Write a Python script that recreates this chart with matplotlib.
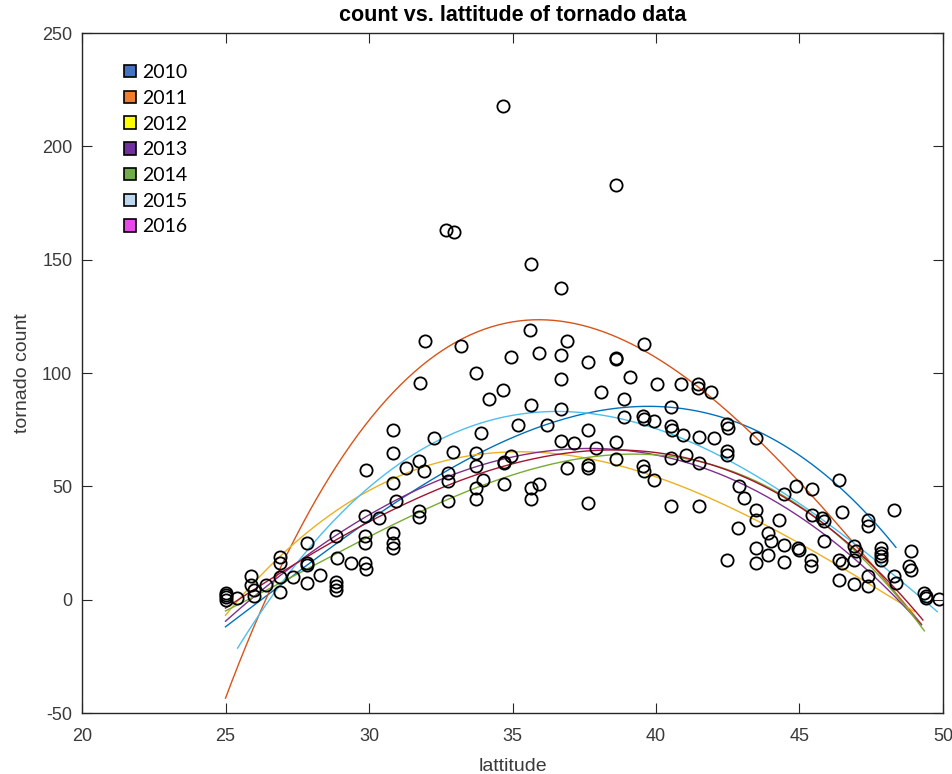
import numpy as np
import matplotlib
matplotlib.use("Agg")
import matplotlib.pyplot as plt
from matplotlib.patches import Patch

plt.rcParams["axes.unicode_minus"] = False

# ---------------- data ----------------
years = ["2010", "2011", "2012", "2013", "2014", "2015", "2016"]
line_colors = ["#0072BD", "#D95319", "#EDB120", "#7E2F8E", "#77AC30", "#4DBEEE", "#A2142F"]
legend_colors = ["#4472C4", "#ED7D31", "#FFFF00", "#7030A0", "#70AD47", "#BDD7EE", "#E848E8"]

lat = [25.0, 25.0, 25.0, 25.0, 25.4,
       25.9, 25.9, 26.0, 26.0, 26.4,
       26.9, 26.9, 26.9, 26.9, 27.35,
       27.85, 27.85, 27.85, 27.85, 28.3,
       28.85, 28.9, 28.85, 28.85, 28.85, 29.37,
       29.85, 29.85, 29.85, 29.85, 29.9, 29.9, 30.36,
       30.83, 30.83, 30.83, 30.94, 30.83, 30.83, 30.83, 31.3,
       31.75, 31.79, 31.9, 31.75, 31.75, 31.95, 32.28,
       32.7, 32.96, 32.74, 32.74, 32.74, 32.91, 33.2,
       33.73, 33.73, 33.73, 33.73, 33.73, 33.9, 33.96,
       34.19, 34.66, 34.68, 34.69, 34.69, 34.69, 34.95, 34.95,
       35.18, 35.64, 35.6, 35.64, 35.64, 35.64, 35.93, 35.93,
       36.2, 36.69, 36.69, 36.7, 36.69, 36.69, 36.9, 36.9,
       37.15, 37.62, 37.62, 37.62, 37.62, 37.62, 37.9,
       38.1, 38.6, 38.6, 38.6, 38.6, 38.6, 38.87, 38.87,
       39.1, 39.53, 39.59, 39.59, 39.53, 39.57, 39.92, 39.94,
       40.05, 40.52, 40.52, 40.55, 40.52, 40.52, 40.87, 40.93,
       41.05, 41.45, 41.47, 41.51, 41.51, 41.51, 41.92, 42.01,
       42.47, 42.5, 42.47, 42.47, 42.47, 42.85, 42.9, 43.05,
       43.49, 43.49, 43.49, 43.49, 43.49,
       43.9, 44.0, 43.9, 44.3,
       44.47, 44.47, 44.47, 44.88, 44.94, 45.0,
       45.43, 45.43, 45.4, 45.4, 45.8, 45.86, 45.86,
       46.39, 46.48, 46.39, 46.48, 46.39,
       46.9, 46.96, 46.9, 46.9,
       47.38, 47.4, 47.37, 47.38,
       47.84, 47.84, 47.84, 47.84,
       48.3, 48.3, 48.35,
       48.88, 48.83, 48.88,
       49.35, 49.4, 49.4, 49.87]

count = [0, 1, 2, 3, 0.8,
         10.5, 6.6, 4.4, 1.5, 6.6,
         19, 16, 10, 3.5, 10,
         25, 16.2, 15.5, 7.5, 11,
         28, 18.5, 8, 6, 4.4, 16,
         36.8, 28, 25, 16, 13.5, 57, 36,
         74.8, 64.8, 51.5, 43.4, 29.4, 25, 23, 58,
         61, 95.7, 56.6, 39, 36.5, 114, 71.4,
         163, 162, 55.9, 52.2, 43.7, 65, 112,
         100, 64.5, 58.9, 49.3, 44.5, 73.6, 53,
         88.6, 92.3, 217.7, 60.4, 60.9, 51.1, 107, 63.3,
         77.1, 148, 119, 86, 49.3, 44.5, 109, 51.1,
         77.1, 108, 97.4, 137.7, 83.9, 69.9, 114, 58.1,
         69.2, 105, 75, 58.1, 59.5, 42.7, 67,
         91.5, 183, 106.7, 106, 69.5, 62.1, 88.6, 80.7,
         98.3, 81, 79.5, 112.6, 58.9, 56.6, 52.7, 79,
         95, 85, 76.5, 75, 62.6, 41.5, 95, 72.8,
         64, 95, 93.5, 71.8, 60.4, 41.5, 91.5, 71.4,
         77.3, 75.8, 65.5, 64, 17.7, 31.7, 50.3, 44.9,
         71.4, 39.7, 35.3, 22.8, 16.2,
         29.4, 26, 19.5, 35.3,
         46.8, 24.3, 16.5, 50, 22.8, 22,
         48.9, 37.5, 17.7, 14.7, 36, 34.6, 25.7,
         52.7, 38.5, 17.7, 16.2, 8.5,
         23.5, 21.3, 17.7, 7,
         35.3, 32.7, 10.3, 5.9,
         22.8, 20.6, 19.1, 17.5,
         39.7, 10.3, 7.4,
         21.3, 14.7, 13.2,
         3, 0.8, 1.5, 0.3]

# Fitted trend curves per year (lattitude, count)
fit_2010_x = [25.0, 30.6, 32.86, 34.6, 36.34, 37.55, 39.7, 42.0, 43.66, 46.33, 48.36]
fit_2010_y = [-13, 45, 57, 66, 76.5, 81.7, 86, 83.9, 72.8, 51.5, 22]
fit_2011_x = [25.0, 27.17, 28.33, 29.14, 30.42, 31.93, 33.9, 35.8, 39.1, 41.46, 42.96, 44.35, 45.98, 47.15, 48.3, 49.25]
fit_2011_y = [-43.4, 23.5, 45.6, 64.8, 83.9, 103, 119.2, 122.6, 116.3, 98.6, 75, 58.9, 36.8, 17.7, 4.4, -8]
fit_2012_x = [25.0, 26.35, 28.0, 29.37, 31.0, 32.16, 33.9, 35.64, 38.43, 40.87, 42.6, 45.3, 47.38, 49.0]
fit_2012_y = [-8, 13.2, 32.4, 44.2, 52.5, 58.9, 64.5, 65.5, 60.4, 50, 40.5, 22, 8.8, -6]
fit_2013_x = [25.0, 30.6, 32.86, 34.6, 36.34, 38.5, 40.87, 43.2, 44.35, 47.38, 49.25]
fit_2013_y = [-10, 44, 53.7, 61.8, 64.5, 65.5, 61.1, 51.5, 43.4, 10.3, -10.3]
fit_2014_x = [25.0, 27.98, 30.6, 33.4, 35.76, 37.5, 39.1, 40.87, 44.35, 46.7, 49.35]
fit_2014_y = [-5.9, 14.7, 35.3, 45.6, 56, 62.6, 64, 62.6, 47.8, 25, -14.7]
fit_2015_x = [25.42, 26.25, 27.98, 29.37, 30.6, 33.4, 35.2, 37.4, 39.7, 40.87, 42.0, 44.35, 47.38, 49.8]
fit_2015_y = [-20.6, -7.4, 23.5, 42.7, 60.4, 73.6, 79.5, 82.5, 76.5, 70, 67.7, 48.6, 19.1, -5.2]
fit_2016_x = [25.0, 30.6, 32.86, 34.6, 36.34, 37.97, 40.87, 43.2, 44.35, 46.7, 49.3]
fit_2016_y = [-4, 39.7, 50, 58.9, 63.3, 64.8, 63, 54.4, 47.1, 23.5, -8.8]

fits_x = [fit_2010_x, fit_2011_x, fit_2012_x, fit_2013_x, fit_2014_x, fit_2015_x, fit_2016_x]
fits_y = [fit_2010_y, fit_2011_y, fit_2012_y, fit_2013_y, fit_2014_y, fit_2015_y, fit_2016_y]

x_ticks = [20, 25, 30, 35, 40, 45, 50]
y_ticks = [-50, 0, 50, 100, 150, 200, 250]

# ---------------- figure ----------------
W, H = 953, 774
fig = plt.figure(figsize=(W / 100, H / 100), dpi=100)
ax = fig.add_axes([82 / W, 1 - 713 / H, (943 - 82) / W, (713 - 33) / H])

tick_font = "Liberation Sans"
dark = "#262626"

for fx, fy, col in zip(fits_x, fits_y, line_colors):
    coef = np.polyfit(fx, fy, 3)
    xs = np.linspace(min(fx), max(fx), 200)
    ax.plot(xs, np.polyval(coef, xs), color=col, lw=1.0, zorder=2)

ax.plot(lat, count, linestyle="none", marker="o", markersize=8.8,
        markerfacecolor="none", markeredgecolor="black", markeredgewidth=1.3, zorder=3)

ax.set_xlim(20, 50)
ax.set_ylim(-50, 250)
ax.set_xticks(x_ticks)
ax.set_yticks(y_ticks)
ax.tick_params(direction="in", length=7, width=0.8, top=True, right=True,
               colors=dark, labelsize=13, pad=7)
ax.tick_params(axis="x", pad=11)
for lab in ax.get_xticklabels() + ax.get_yticklabels():
    lab.set_fontfamily(tick_font)
    lab.set_color("#3a3a3a")
for sp in ax.spines.values():
    sp.set_color(dark)
    sp.set_linewidth(1.0)

ax.set_title("count vs. lattitude of tornado data", fontsize=15.5, fontweight="bold",
             family=tick_font, color="black", pad=9)
ax.set_xlabel("lattitude", fontsize=14, family=tick_font, color="#3a3a3a", labelpad=9)
ax.set_ylabel("tornado count", fontsize=14, family=tick_font, color="#3a3a3a", labelpad=8)

handles = [Patch(facecolor=c, edgecolor="black", linewidth=1.2) for c in legend_colors]
ax.legend(handles, years, loc="upper left", bbox_to_anchor=(124 / W, 1 - 64 / H),
          bbox_transform=fig.transFigure, frameon=False, prop={"family": "Lato", "size": 14},
          handlelength=0.6, handleheight=0.6, handletextpad=0.35, labelspacing=0.45,
          borderpad=0, borderaxespad=0)

fig.savefig("out.png", dpi=100, facecolor="white")
